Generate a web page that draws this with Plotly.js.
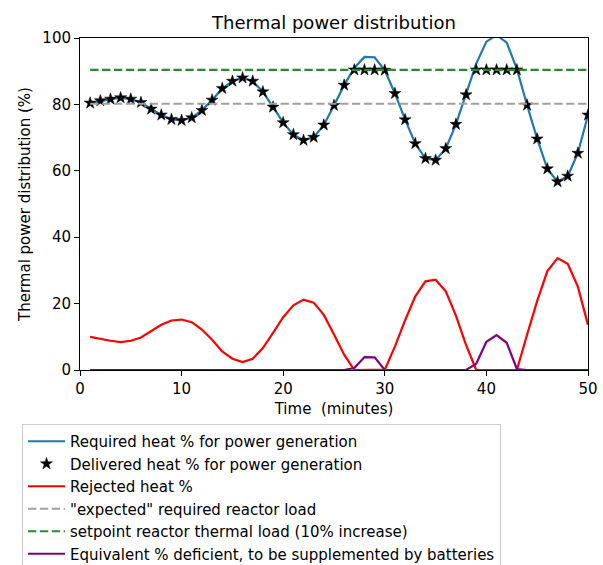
<!DOCTYPE html>
<html>
<head>
<meta charset="utf-8">
<script src="https://cdn.plot.ly/plotly-3.0.1.min.js"></script>
<style>
  html, body { margin: 0; padding: 0; background: #fff; }
  #chart { width: 603px; height: 565px; }
</style>
</head>
<body>
<div id="chart"></div>
<script>
// ---- data ----
const timeMinutes = [1,2,3,4,5,6,7,8,9,10,11,12,13,14,15,16,17,18,19,20,21,22,23,24,25,
                     26,27,28,29,30,31,32,33,34,35,36,37,38,39,40,41,42,43,44,45,46,47,48,49,50];

const requiredHeat = [80.4,81.1,81.6,82.0,81.6,80.6,78.6,76.8,75.5,75.2,76.0,78.2,81.3,84.8,87.0,88.0,87.0,83.8,79.2,74.5,70.9,69.2,70.1,73.8,79.7,
                      85.8,91.0,94.3,94.2,90.3,83.3,75.4,68.2,63.7,63.2,66.7,74.0,82.9,92.3,98.9,100.9,98.6,90.7,79.8,69.6,60.6,56.7,58.4,65.3,76.8];

const deliveredHeat = [80.4,81.1,81.6,82.0,81.6,80.6,78.6,76.8,75.5,75.2,76.0,78.2,81.3,84.8,87.0,88.0,87.0,83.8,79.2,74.5,70.9,69.2,70.1,73.8,79.7,
                       85.8,90.4,90.4,90.4,90.3,83.3,75.4,68.2,63.7,63.2,66.7,74.0,82.9,90.4,90.4,90.4,90.4,90.4,79.8,69.6,60.6,56.7,58.4,65.3,76.8];

const rejectedHeat = [10.0,9.3,8.8,8.4,8.8,9.8,11.8,13.6,14.9,15.2,14.4,12.2,9.1,5.6,3.4,2.4,3.4,6.6,11.2,15.9,19.5,21.2,20.3,16.6,10.7,
                      4.6,0,0,0,0.1,7.1,15.0,22.2,26.7,27.2,23.7,16.4,7.5,0,0,0,0,0,10.6,20.8,29.8,33.7,32.0,25.1,13.6];

const deficientHeat = [0,0,0,0,0,0,0,0,0,0,0,0,0,0,0,0,0,0,0,0,0,0,0,0,0,
                       0,0.6,3.9,3.8,0,0,0,0,0,0,0,0,0,1.9,8.5,10.5,8.2,0.3,0,0,0,0,0,0,0];

const expectedLoad = 80.2;   // "expected" required reactor load
const setpointLoad = 90.4;   // setpoint reactor thermal load
const loadSpan = [1, 50];    // x extent of the reference lines

const seriesNames = [
  'Required heat % for power generation',
  'Delivered heat % for power generation',
  'Rejected heat %',
  '"expected" required reactor load',
  'setpoint reactor thermal load (10% increase)',
  'Equivalent % deficient, to be supplemented by batteries'
];

const titleText = 'Thermal power distribution';
const xTitle = 'Time\u00a0 (minutes)';
const yTitle = 'Thermal power distribution (%)';
const xTicks = [0,10,20,30,40,50];
const yTicks = [0,20,40,60,80,100];

// ---- traces ----
const FONT = 'DejaVu Sans, Verdana, sans-serif';
const dash = '8.3px,3.6px';

const traces = [
  { x: timeMinutes, y: requiredHeat, name: seriesNames[0], type: 'scatter', mode: 'lines',
    line: { color: '#1f77b4', width: 2.2 } },
  { x: timeMinutes, y: deliveredHeat, name: seriesNames[1], type: 'scatter', mode: 'markers',
    marker: { symbol: 'star', size: 9, color: '#000000', line: { color: '#000', width: 0.5 } } },
  { x: timeMinutes, y: rejectedHeat, name: seriesNames[2], type: 'scatter', mode: 'lines',
    line: { color: '#ff0000', width: 2.2 } },
  { x: loadSpan, y: loadSpan.map(() => expectedLoad), name: seriesNames[3], type: 'scatter', mode: 'lines',
    line: { color: '#a0a0a0', width: 2.2, dash: dash } },
  { x: loadSpan, y: loadSpan.map(() => setpointLoad), name: seriesNames[4], type: 'scatter', mode: 'lines',
    line: { color: '#2a8a2a', width: 2.2, dash: dash } },
  { x: timeMinutes, y: deficientHeat, name: seriesNames[5], type: 'scatter', mode: 'lines',
    line: { color: '#800080', width: 2.2 } }
];

const layout = {
  width: 603, height: 565,
  margin: { l: 80, r: 15, t: 38, b: 195, autoexpand: false },
  paper_bgcolor: '#ffffff', plot_bgcolor: '#ffffff',
  font: { family: FONT, size: 15, color: '#000000' },
  showlegend: true,
  title: { text: titleText, font: { family: FONT, size: 18, color: '#000' },
           xref: 'paper', x: 0.5, xanchor: 'center', yref: 'container', y: 1 - 23/565, yanchor: 'middle' },
  xaxis: {
    range: [0, 50], tickvals: xTicks, ticktext: xTicks.map(String),
    showgrid: false, zeroline: false,
    showline: true, linecolor: '#000', linewidth: 1, mirror: true,
    ticks: 'outside', ticklen: 5, tickwidth: 1, tickcolor: '#000',
    tickfont: { family: FONT, size: 15, color: '#000' },
    title: { text: xTitle, font: { family: FONT, size: 15, color: '#000' }, standoff: 6 }
  },
  yaxis: {
    range: [0, 100], tickvals: yTicks, ticktext: yTicks.map(String),
    showgrid: false, zeroline: false,
    showline: true, linecolor: '#000', linewidth: 1, mirror: true,
    ticks: 'outside', ticklen: 5, tickwidth: 1, tickcolor: '#000',
    tickfont: { family: FONT, size: 15, color: '#000' },
    title: { text: yTitle, font: { family: FONT, size: 15, color: '#000' }, standoff: 8 }
  },
  legend: {
    x: (22 - 80) / 508, xanchor: 'left',
    y: (370 - 424) / 332, yanchor: 'top',
    orientation: 'v',
    itemwidth: 37,
    bgcolor: 'rgba(255,255,255,0.8)', bordercolor: '#cccccc', borderwidth: 1,
    font: { family: FONT, size: 15, color: '#000' },
    traceorder: 'normal'
  }
};

Plotly.newPlot('chart', traces, layout, { displayModeBar: false, staticPlot: true });
</script>
</body>
</html>
